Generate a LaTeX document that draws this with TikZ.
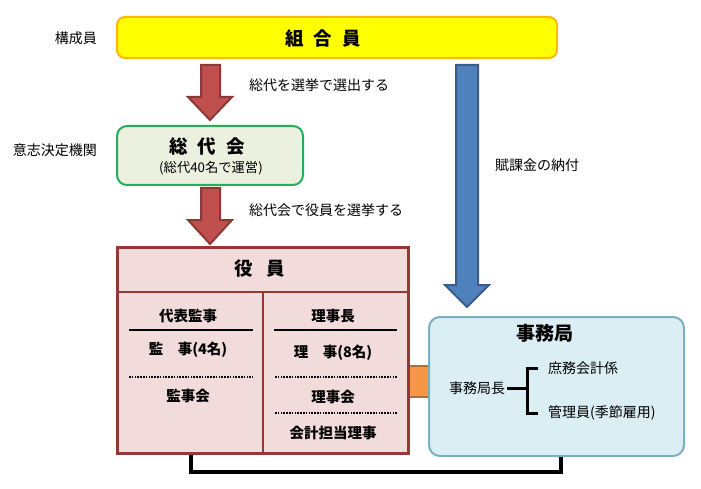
\documentclass[tikz,border=0pt]{standalone}
\usepackage{fontspec}
\setmainfont{Noto Sans CJK JP}
\usetikzlibrary{calc}
\definecolor{yfill}{HTML}{FFFF00}
\definecolor{yborder}{HTML}{FFB800}
\definecolor{gfill}{HTML}{EBF1DE}
\definecolor{gborder}{HTML}{22AE5A}
\definecolor{rfill}{HTML}{C0504D}
\definecolor{rborder}{HTML}{8C3836}
\definecolor{bfill}{HTML}{4F81BD}
\definecolor{bborder}{HTML}{385D8A}
\definecolor{kfill}{HTML}{F2DCDB}
\definecolor{kborder}{HTML}{953735}
\definecolor{jfill}{HTML}{DBEEF4}
\definecolor{jborder}{HTML}{7AAFC0}
\definecolor{ofill}{HTML}{F79646}
\definecolor{oborder}{HTML}{B66D31}
\tikzset{
  lbl/.style={font=\fontsize{14}{16}\selectfont, inner sep=1pt},
  colt/.style={font=\fontsize{14.5}{17}\selectfont\bfseries, inner sep=1pt},
  bigt/.style={font=\fontsize{18.5}{22}\selectfont\bfseries, inner sep=1pt},
  ybox/.style={draw=yborder, fill=yfill, line width=2pt, rounded corners=8pt},
  gbox/.style={draw=gborder, fill=gfill, line width=2pt, rounded corners=10pt},
  kbox/.style={draw=kborder, fill=kfill, line width=3pt},
  jbox/.style={draw=jborder, fill=jfill, line width=2pt, rounded corners=11pt},
  redarrow/.style={draw=rborder, fill=rfill, line width=2pt, line join=miter},
  bluearrow/.style={draw=bborder, fill=bfill, line width=2pt, line join=miter},
  inner/.style={draw=kborder, line width=2pt},
  solidsep/.style={draw=black, line width=2.2pt},
  dotsep/.style={draw=black, line width=1.8pt, dash pattern=on 1.5pt off 1.3pt},
  conn/.style={draw=black, line width=4pt},
  brk/.style={draw=black, line width=3pt},
}
\begin{document}
\begin{tikzpicture}[x=1pt,y=-1pt]
\useasboundingbox (0,0) rectangle (701,489);
\fill[white] (0,0) rectangle (701,489);

% boxes
\node[ybox, minimum width=440pt, minimum height=41pt] (kumiai) at (337,37.5) {};
\node[bigt] (kumiaiT) at (323,38) {組\hspace{0.55em}合\hspace{0.55em}員};
\node[lbl, anchor=east] (kosei) at (98,38) {構成員};

\node[gbox, minimum width=186pt, minimum height=59pt] (sodai) at (210,155.5) {};
\node[font=\fontsize{18.5}{22}\selectfont\bfseries, inner sep=1pt] (sodaiT) at (207,146) {総\hspace{0.55em}代\hspace{0.55em}会};
\node[font=\fontsize{13.3}{15}\selectfont, inner sep=1pt] (sodaiS) at (211,168) {(総代40名で運営)};
\node[lbl, anchor=east] (ishi) at (98,150) {意志決定機関};

% orange connector (behind)
\coordinate (oa) at (400,366);
\coordinate (ob) at (438,397);
\fill[ofill] (oa) rectangle (ob);
\draw[oborder, line width=2pt] (oa) -- (oa -| ob);
\draw[oborder, line width=2pt] (oa |- ob) -- (ob);

\node[kbox, minimum width=291pt, minimum height=206pt] (yakuin) at (262.5,350) {};
\draw[inner] (yakuin.west |- 0,292) -- (yakuin.east |- 0,292);
\draw[inner] (263,292) -- (yakuin.south -| 263,0);
\node[bigt] (yakuinT) at (260,269) {役\hspace{0.75em}員};

\node[colt] (daihyo) at (188,316) {代表監事};
\draw[solidsep] (129,330) -- (253,330);
\node[colt] (kanji) at (188,350) {監\hspace{1em}事(4名)};
\draw[dotsep] (129,377) -- (253,377);
\node[colt] (kanjikai) at (188,396) {監事会};

\node[colt] (rijicho) at (333,316) {理事長};
\draw[solidsep] (274,330) -- (397,330);
\node[colt] (riji) at (333,353) {理\hspace{1em}事(8名)};
\draw[dotsep] (275,377) -- (397,377);
\node[colt] (rijikai) at (333,397) {理事会};
\draw[dotsep] (275,413) -- (397,413);
\node[colt] (kaikei) at (333,433) {会計担当理事};

\node[jbox, minimum width=255pt, minimum height=139pt] (jimu) at (556.5,386.5) {};
\node[font=\fontsize{19}{22}\selectfont\bfseries, inner sep=1pt] (jimuT) at (545,333) {事務局};
\node[lbl, inner sep=2pt] (chou) at (477,388) {事務局長};
\node[lbl, anchor=west] (shomu) at (547,368) {庶務会計係};
\node[lbl, anchor=west] (kanri) at (547,413) {管理員(季節雇用)};
\coordinate (bx) at ([xshift=-20pt]kanri.west);
\draw[brk] (chou.east) -- (chou.east -| bx);
\draw[brk] ([xshift=-9pt]shomu.west) -| (bx) -- ([xshift=-9pt]kanri.west);

% black connector
\draw[conn] ([xshift=75pt]yakuin.south west) -- ++(0,17) -| ([xshift=133pt]jimu.south west);

% red arrows
\draw[redarrow] (201,65) -- (220,65) -- (220,97) -- (232,97) -- (210,120) -- (188,97) -- (201,97) -- cycle;
\node[lbl, anchor=west] (senkyo1) at (248,85) {総代を選挙で選出する};
\draw[redarrow] (201,188) -- (220,188) -- (220,220) -- (232,220) -- (210,244) -- (188,220) -- (201,220) -- cycle;
\node[lbl, anchor=west] (senkyo2) at (248,210) {総代会で役員を選挙する};

% blue arrow
\draw[bluearrow] (456,65) -- (478,65) -- (478,285) -- (489,285) -- (467,307) -- (445,285) -- (456,285) -- cycle;
\node[lbl, anchor=west] (fuka) at (494,165) {賦課金の納付};
\end{tikzpicture}
\end{document}
